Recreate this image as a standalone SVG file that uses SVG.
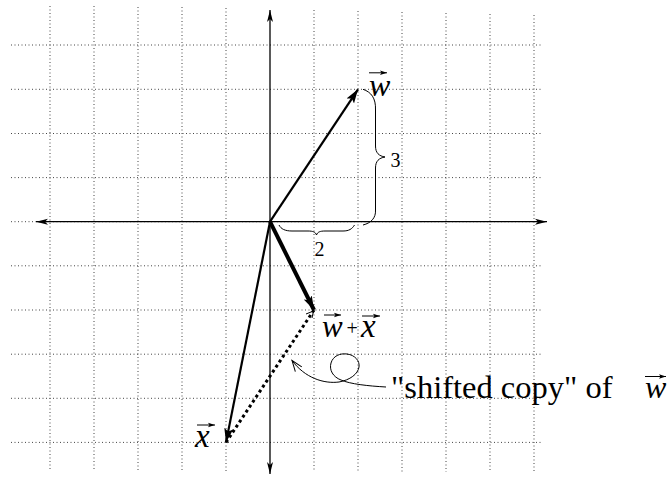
<svg xmlns="http://www.w3.org/2000/svg" width="668" height="481" viewBox="0 0 668 481">
<style>
.grid{stroke:#444;stroke-width:1;stroke-dasharray:1 2.5;fill:none}
.axis{stroke:#000;stroke-width:1.3;fill:none}
.vec{stroke:#000;fill:none}
.brace{stroke:#000;stroke-width:1;fill:none}
.it{font-family:"Liberation Serif","Times New Roman",serif;font-style:italic;fill:#000}
.rm{font-family:"Liberation Serif","Times New Roman",serif;fill:#000}
.va{stroke:#000;stroke-width:1;fill:none}
</style>
<defs>
<marker id="axhead" markerUnits="userSpaceOnUse" markerWidth="14" markerHeight="10" refX="12" refY="5" orient="auto">
<path d="M0,2 L12,5 L0,8 L3,5 Z" fill="#000"/>
</marker>
<marker id="vhead" markerUnits="userSpaceOnUse" markerWidth="16" markerHeight="12" refX="14" refY="6" orient="auto">
<path d="M0,1.5 L14,6 L0,10.5 L3,6 Z" fill="#000"/>
</marker>
<marker id="openhead" markerUnits="userSpaceOnUse" markerWidth="14" markerHeight="12" refX="12" refY="6" orient="auto">
<path d="M1,2 L12,6 L1,10" fill="none" stroke="#000" stroke-width="1"/>
</marker>
<marker id="tiny" markerUnits="userSpaceOnUse" markerWidth="8" markerHeight="6" refX="7" refY="3" orient="auto">
<path d="M0,0.8 L7,3 L0,5.2 L1.5,3 Z" fill="#000"/>
</marker>
</defs>
<g id="grid">
<path class="grid" d="M11,45H541M11,89.3H541M11,133.5H541M11,177.6H541M11,221.7H541M11,265.8H541M11,310H541M11,354.2H541M11,398.3H541M11,442.4H541"/>
<path class="grid" d="M50,6V471M94,6V471M138,7V472M182,7V472M226,8V472M314,10V472M358,11V472M402,12V472M446,13V472M490,14V472M534,15V472"/>
</g>
<g id="axes">
<line class="axis" x1="270" y1="221.7" x2="36" y2="221.7" marker-end="url(#axhead)"/>
<line class="axis" x1="270" y1="221.7" x2="547" y2="221.7" marker-end="url(#axhead)"/>
<line class="axis" x1="270" y1="221.7" x2="270" y2="10" marker-end="url(#axhead)"/>
<line class="axis" x1="270" y1="221.7" x2="270" y2="474" marker-end="url(#axhead)"/>
</g>
<g id="connectors">
<line id="vec-w" class="vec" stroke-width="2.2" x1="270" y1="221.7" x2="358" y2="89.3" marker-end="url(#vhead)"/>
<line id="vec-x" class="vec" stroke-width="2.2" x1="270" y1="221.7" x2="226" y2="442.4" marker-end="url(#vhead)"/>
<line id="vec-wx" class="vec" stroke-width="4" x1="270" y1="221.7" x2="314" y2="310" marker-end="url(#vhead)"/>
<line id="shifted-w" class="vec" stroke-width="3" stroke-dasharray="3 3" x1="226" y1="442.4" x2="314" y2="310"/>
<path id="shifted-w-head" d="M306,314 L313.5,311 L312,318" class="va"/>
<path id="curl" class="va" d="M386,387 C368,386 350,384 341,380 C333,377 329,370 331,363 C333,356 340,353 347,354 C355,355 360,361 359,367 C358,374 350,380 339,382 C324,384 305,378 292,360.5" marker-end="url(#openhead)"/>
</g>
<g id="brace-3">
<path class="brace" d="M363,89.3 C371,92 376,98 375.5,110 L375.5,146 C375.5,153 379,156 385,157 C379,158 375.5,161 375.5,168 L375.5,210 C376,218 371,223 363,225"/>
<text class="rm" x="390.5" y="166.7" font-size="20">3</text>
</g>
<g id="brace-2">
<path class="brace" d="M279,225 C281,229 285,231 292,231 L308,231 C313,231 315.5,232 316.5,235 C317.5,232 320,231 325,231 L343,231 C349,231 352,229 354.5,225"/>
<text class="rm" x="314.5" y="255.5" font-size="20">2</text>
</g>
<g id="label-w">
<text class="it" x="369" y="95.5" font-size="32">w</text>
<line class="va" x1="369" y1="72.8" x2="387" y2="72.8" marker-end="url(#tiny)"/>
</g>
<g id="label-wx">
<text class="it" x="322" y="336.7" font-size="31">w</text>
<line class="va" x1="324" y1="315" x2="341" y2="315" marker-end="url(#tiny)"/>
<text class="rm" x="346.5" y="334.5" font-size="20">+</text>
<text class="it" x="361" y="336.7" font-size="33">x</text>
<line class="va" x1="362" y1="316" x2="380" y2="316" marker-end="url(#tiny)"/>
</g>
<g id="label-x">
<text class="it" x="195" y="446.7" font-size="33">x</text>
<line class="va" x1="197" y1="425" x2="215" y2="425" marker-end="url(#tiny)"/>
</g>
<g id="label-shifted">
<text class="rm" x="391" y="398.3" font-size="32.5">"shifted copy" of</text>
<text class="it" x="645" y="398.3" font-size="32">w</text>
<line class="va" x1="645" y1="376.5" x2="666" y2="376.5" marker-end="url(#tiny)"/>
</g>
</svg>
